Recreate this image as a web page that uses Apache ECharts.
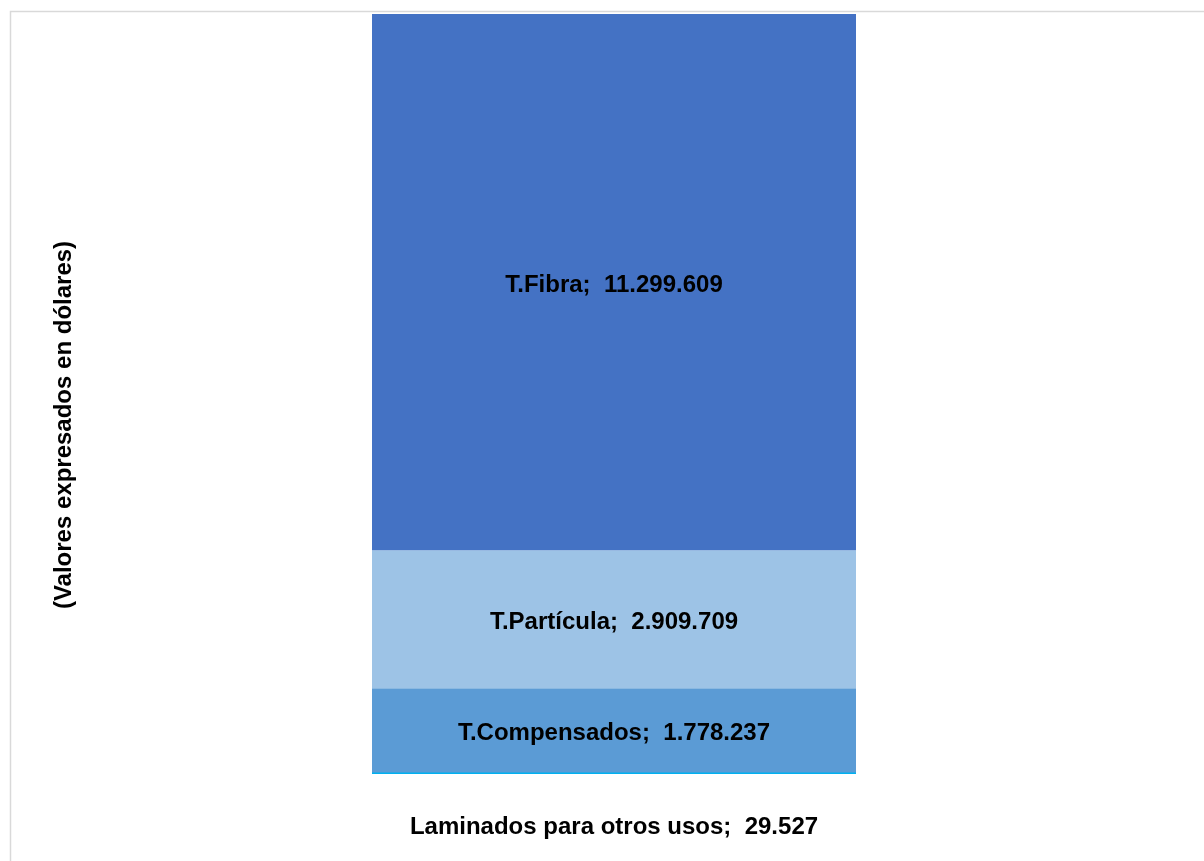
<!DOCTYPE html>
<html>
<head>
<meta charset="utf-8">
<script src="https://cdn.jsdelivr.net/npm/echarts@6/dist/echarts.min.js"></script>
<style>
html,body{margin:0;padding:0;background:#fff;}
#chart{width:1204px;height:861px;}
</style>
</head>
<body>
<div id="chart"></div>
<script>
// Data
const categories = ['Total'];
const seriesNames = ['Laminados para otros usos', 'T.Compensados', 'T.Partícula', 'T.Fibra'];
const seriesValues = [29527, 1778237, 2909709, 11299609];
const seriesColors = ['#00B0F0', '#5B9BD5', '#9DC3E6', '#4472C4'];
const axisTitle = '(Valores expresados en dólares)';

const total = seriesValues.reduce((a, b) => a + b, 0);
function fmt(v) {
  return String(v).replace(/\B(?=(\d{3})+(?!\d))/g, '.');
}

const chart = echarts.init(document.getElementById('chart'), null, {renderer: 'canvas'});
const series = seriesNames.map((name, i) => ({
  name: name,
  type: 'bar',
  stack: 'total',
  barWidth: '100%',
  barMinHeight: i === 0 ? 2 : 0,
  data: [seriesValues[i]],
  itemStyle: {color: seriesColors[i]},
  label: {
    show: true,
    position: i === 0 ? 'bottom' : 'inside',
    distance: i === 0 ? 41 : 5,
    offset: i === 0 ? [0, 0] : [0, 3],
    formatter: p => p.seriesName + ';  ' + fmt(p.value),
    fontFamily: 'Liberation Sans, Arial, sans-serif',
    fontWeight: 'bold',
    fontSize: 24,
    color: '#000'
  }
}));

chart.setOption({
  animation: false,
  backgroundColor: '#fff',
  grid: {left: 372, right: 348, top: 14, bottom: 87, containLabel: false},
  xAxis: {
    type: 'category',
    data: categories,
    show: false
  },
  yAxis: {
    type: 'value',
    min: 0,
    max: total,
    show: false
  },
  graphic: [
    {
      type: 'rect',
      z: -1,
      shape: {x: 10.5, y: 11.5, width: 1400, height: 1000},
      style: {fill: 'none', stroke: '#d9d9d9', lineWidth: 1.5}
    },
    {
      type: 'text',
      x: 64,
      y: 425,
      rotation: Math.PI / 2,
      style: {
        text: axisTitle,
        fontFamily: 'Liberation Sans, Arial, sans-serif',
        fontWeight: 'bold',
        fontSize: 24,
        fill: '#000',
        align: 'center',
        verticalAlign: 'middle'
      }
    }
  ],
  series: series
});
</script>
</body>
</html>
